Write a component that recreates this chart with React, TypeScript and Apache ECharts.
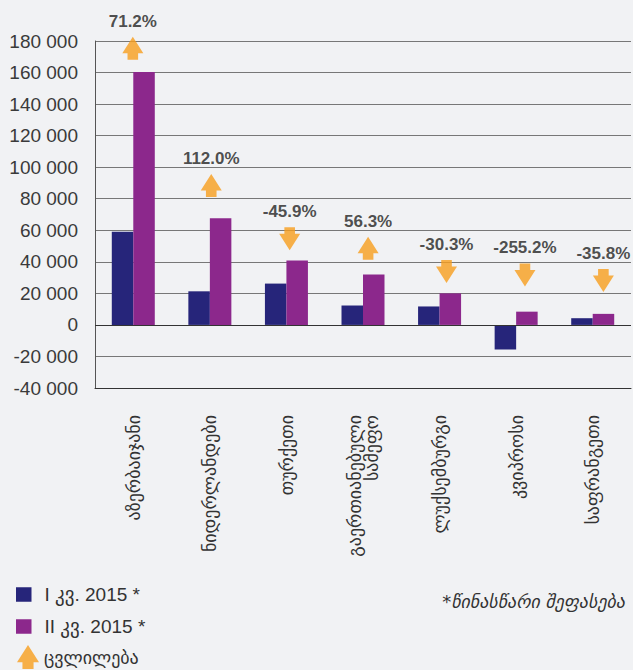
import React, { useEffect, useRef } from "react";
import * as echarts from "echarts";

const categories = [
  "აზერბაიჯანი",
  "ნიდერლანდები",
  "თურქეთი",
  "გაერთიანებული\nსამეფო",
  "ლუქსემბურგი",
  "კვიპროსი",
  "საფრანგეთი",
];
const q1Values = [59000, 21300, 26200, 12300, 11700, -15600, 4250];
const q2Values = [160300, 67700, 40900, 32000, 20000, 8400, 7000];
const changePct = [71.2, 112.0, -45.9, 56.3, -30.3, -255.2, -35.8];
const arrowLevels = [175400, 88400, 54700, 48600, 33800, 31700, 28100];

const seriesNames = ["I კვ. 2015 *", "II კვ. 2015 *", "ცვლილება"];
const footnote = "*წინასწარი შეფასება";
const yMin = -40000;
const yMax = 180000;
const yStep = 20000;

const UP = "path://M10.5,0 L21,16.5 L15.8,16.5 L15.8,23 L5.2,23 L5.2,16.5 L0,16.5 Z";
const DOWN = "path://M5.2,0 L15.8,0 L15.8,6.5 L21,6.5 L10.5,23 L0,6.5 L5.2,6.5 Z";

const fmt = (v: number) => {
  const s = String(Math.abs(v)).replace(/\B(?=(\d{3})+(?!\d))/g, " ");
  return (v < 0 ? "-" : "") + s;
};

const LATIN = "'Liberation Sans', 'DejaVu Sans', sans-serif";
const GEO = "'DejaVu Sans', sans-serif";

export default function App() {
  const ref = useRef<HTMLDivElement>(null);
  useEffect(() => {
    document.body.style.margin = "0";
    if (!ref.current) return;
    const chart = echarts.init(ref.current, null, { renderer: "svg" });
    const option: any = {
      animation: false,
      backgroundColor: "#f1f2f4",
      title: {
        text: footnote,
        right: 8,
        top: 592,
        padding: 0,
        textStyle: {
          fontFamily: GEO,
          fontStyle: "italic",
          fontWeight: "normal",
          fontSize: 18,
          color: "#333",
        },
      },
      legend: [
        {
          orient: "vertical",
          left: 16,
          top: 585,
          padding: 0,
          itemWidth: 15.5,
          itemHeight: 14.5,
          itemGap: 13,
          icon: "rect",
          data: [seriesNames[0], seriesNames[1]],
          textStyle: {
            fontFamily: LATIN,
            fontSize: 19,
            lineHeight: 16,
            color: "#333",
            padding: [0, 0, 0, 8],
          },
        },
        {
          orient: "vertical",
          left: 17,
          top: 645,
          padding: 0,
          itemWidth: 22,
          itemHeight: 25,
          data: [{ name: seriesNames[2], icon: UP }],
          textStyle: {
            fontFamily: GEO,
            fontSize: 18,
            lineHeight: 18,
            color: "#333",
          },
        },
      ],
      grid: [
        { left: 95, width: 536, top: 41, bottom: 282, outerBoundsMode: "none" },
        { left: 93.6, width: 549, top: 41, bottom: 282, outerBoundsMode: "none" },
      ],
      xAxis: [
        {
          type: "category",
          gridIndex: 0,
          data: categories,
          axisLine: { onZero: false, lineStyle: { color: "#333", width: 1 } },
          axisTick: { show: false },
          axisLabel: {
            rotate: 90,
            margin: 27,
            interval: 0,
            fontFamily: GEO,
            fontSize: 18,
            lineHeight: 17,
            color: "#333",
          },
        },
        {
          type: "category",
          gridIndex: 1,
          data: categories,
          show: false,
        },
      ],
      yAxis: [
        {
          type: "value",
          gridIndex: 0,
          min: yMin,
          max: yMax,
          interval: yStep,
          axisLine: { show: true, lineStyle: { color: "#555" } },
          axisTick: { show: false },
          splitLine: { lineStyle: { color: "#777", width: 1 } },
          axisLabel: {
            formatter: fmt,
            margin: 17,
            fontFamily: LATIN,
            fontSize: 19,
            color: "#3a3a3a",
          },
        },
        {
          type: "value",
          gridIndex: 1,
          min: yMin,
          max: yMax,
          interval: yStep,
          show: false,
          splitLine: { show: false },
        },
      ],
      series: [
        {
          name: seriesNames[0],
          type: "bar",
          xAxisIndex: 0,
          yAxisIndex: 0,
          data: q1Values,
          barWidth: 21.5,
          barGap: "0%",
          itemStyle: { color: "#26257a" },
          markLine: {
            silent: true,
            symbol: "none",
            label: { show: false },
            lineStyle: { color: "#333", width: 1, type: "solid" },
            data: [{ yAxis: 0 }],
          },
        },
        {
          name: seriesNames[1],
          type: "bar",
          xAxisIndex: 0,
          yAxisIndex: 0,
          data: q2Values,
          barWidth: 21.5,
          barGap: "0%",
          itemStyle: { color: "#8c288c" },
        },
        {
          name: seriesNames[2],
          type: "scatter",
          xAxisIndex: 1,
          yAxisIndex: 1,
          symbol: UP,
          symbolSize: [21, 23],
          itemStyle: { color: "#f89d1d" },
          data: arrowLevels.map((v, i) => ({
            value: v,
            symbol: changePct[i] >= 0 ? UP : DOWN,
          })),
          label: {
            show: true,
            position: "top",
            distance: 7,
            formatter: (p: any) => `${changePct[p.dataIndex].toFixed(1)}%`,
            fontFamily: LATIN,
            fontWeight: "bold",
            fontSize: 17,
            color: "#222",
          },
        },
      ],
    };
    chart.setOption(option);
    return () => chart.dispose();
  }, []);
  return <div ref={ref} style={{ width: 633, height: 670 }} />;
}
